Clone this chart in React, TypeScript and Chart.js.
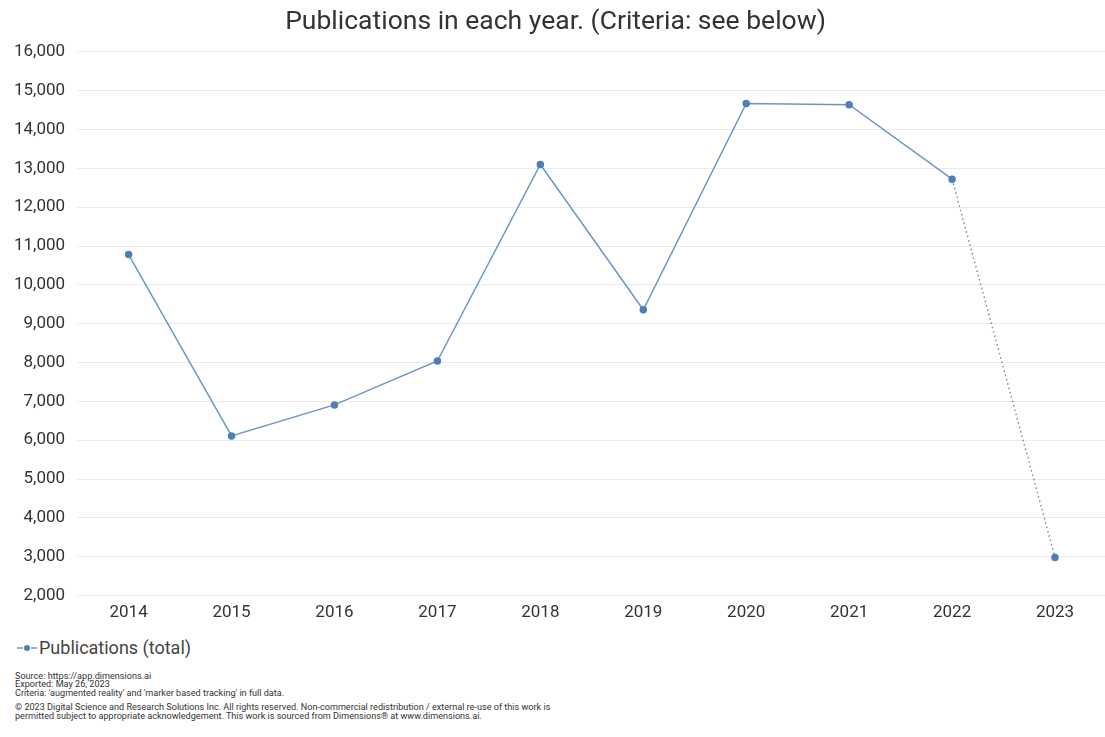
import React, { useEffect, useRef } from "react";
import { Chart, registerables } from "chart.js";

Chart.register(...registerables);

const years = ["2014", "2015", "2016", "2017", "2018", "2019", "2020", "2021", "2022", "2023"];
const publications = [10780, 6110, 6910, 8040, 13100, 9360, 14670, 14640, 12720, 2980];
const yMin = 2000;
const yMax = 16000;
const yStep = 1000;
const titleText = "Publications in each year. (Criteria: see below)";
const legendLabel = "Publications (total)";
const footerLines = [
  "Source: https://app.dimensions.ai",
  "Exported: May 26, 2023",
  "Criteria: 'augmented reality' and 'marker based tracking' in full data.",
];
const copyrightLines = [
  "© 2023 Digital Science and Research Solutions Inc. All rights reserved. Non-commercial redistribution / external re-use of this work is",
  "permitted subject to appropriate acknowledgement. This work is sourced from Dimensions® at www.dimensions.ai.",
];

const FONT = "Roboto, 'Noto Sans', sans-serif";
const LINE = "#6a97c6";
const POINT = "#4f7fb3";

export default function App() {
  const ref = useRef<HTMLCanvasElement | null>(null);
  useEffect(() => {
    if (!ref.current) return;
    const chart = new Chart(ref.current, {
      type: "line",
      data: {
        labels: years,
        datasets: [
          {
            label: legendLabel,
            data: publications,
            borderColor: LINE,
            backgroundColor: POINT,
            pointBackgroundColor: POINT,
            pointBorderColor: POINT,
            pointRadius: 3,
            borderWidth: 1.5,
            tension: 0,
            segment: {
              borderDash: (ctx: any) => (ctx.p1DataIndex === years.length - 1 ? [1.5, 3] : undefined),
              borderColor: (ctx: any) => (ctx.p1DataIndex === years.length - 1 ? "#7a8fa6" : undefined),
            },
          },
        ],
      },
      options: {
        animation: false,
        responsive: false,
        maintainAspectRatio: false,
        layout: { padding: { left: 2, right: 3, top: 0, bottom: 0 } },
        plugins: {
          legend: { display: false },
          tooltip: { enabled: false },
          title: {
            display: true,
            text: titleText,
            color: "#333",
            font: { family: FONT, size: 26.5, weight: "normal" },
            padding: { top: 6, bottom: 14 },
          },
        },
        scales: {
          x: {
            offset: true,
            grid: { display: false, drawTicks: false },
            border: { display: false },
            ticks: { color: "#333", font: { family: FONT, size: 17 }, padding: 7 },
          },
          y: {
            min: yMin,
            max: yMax,
            grid: { color: "#ebebeb", drawTicks: false },
            border: { display: false },
            ticks: {
              stepSize: yStep,
              color: "#333",
              font: { family: FONT, size: 17 },
              padding: 12,
              callback: (v: any) => Number(v).toLocaleString("en-US"),
            },
          },
        },
      },
    });
    return () => chart.destroy();
  }, []);

  return (
    <div style={{ position: "absolute", left: 0, top: 0, width: 1105, height: 737, background: "#fff", fontFamily: FONT, overflow: "hidden" }}>
      <canvas ref={ref} width={1112} height={630} style={{ display: "block" }} />
      <div style={{ position: "absolute", left: 16, top: 637, display: "flex", alignItems: "center", fontSize: 18, color: "#444", whiteSpace: "nowrap" }}>
        <svg width="22" height="12" style={{ marginRight: 1 }}>
          <line x1="1" y1="6" x2="7" y2="6" stroke={LINE} strokeWidth="1.5" />
          <line x1="15" y1="6" x2="21" y2="6" stroke={LINE} strokeWidth="1.5" />
          <circle cx="11" cy="6" r="3" fill={POINT} />
        </svg>
        {legendLabel}
      </div>
      <div style={{ position: "absolute", left: 15, top: 672, fontSize: 9.1, lineHeight: "8.3px", color: "#333", whiteSpace: "nowrap" }}>
        {footerLines.map((l, i) => (
          <div key={i}>{l}</div>
        ))}
        <div style={{ height: 6.5 }} />
        {copyrightLines.map((l, i) => (
          <div key={"c" + i}>{l}</div>
        ))}
      </div>
    </div>
  );
}
